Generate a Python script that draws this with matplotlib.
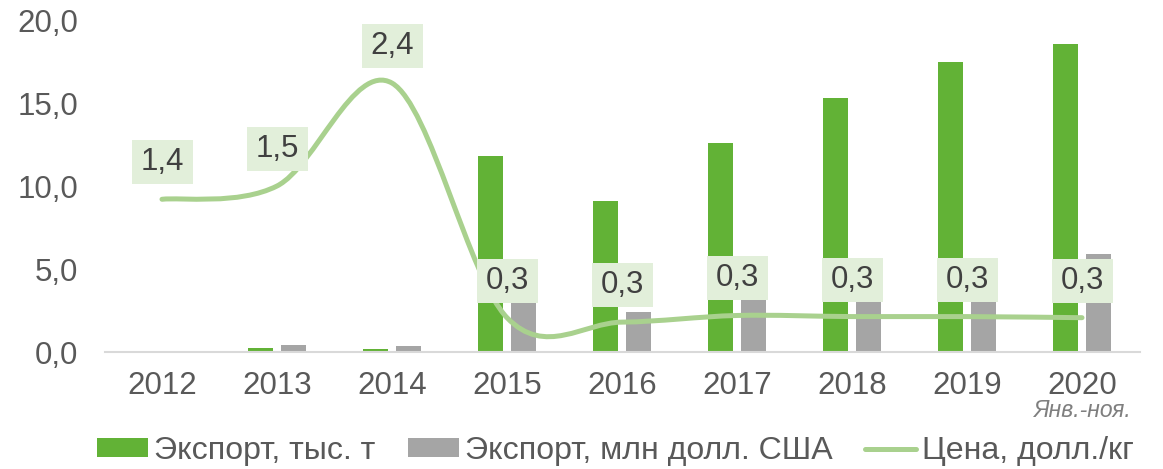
import matplotlib
matplotlib.use('Agg')
import matplotlib.pyplot as plt
import numpy as np
from matplotlib.path import Path
from matplotlib.patches import PathPatch, Rectangle, Patch
from matplotlib.lines import Line2D
import matplotlib.transforms as mtransforms

plt.rcParams['font.family'] = ['Liberation Sans', 'DejaVu Sans']

# ---- data ----
years = ['2012', '2013', '2014', '2015', '2016', '2017', '2018', '2019', '2020']
export_kt = [0.0, 0.26, 0.16, 11.8, 9.1, 12.6, 15.3, 17.5, 18.55]
export_musd = [0.0, 0.42, 0.38, 3.3, 2.4, 3.5, 3.2, 3.3, 5.9]
price = [1.38, 1.50, 2.43, 0.31, 0.27, 0.33, 0.32, 0.32, 0.31]
y_ticks = [0, 5, 10, 15, 20]
series_names = ['Экспорт, тыс. т', 'Экспорт, млн долл. США', 'Цена, долл./кг']
note = 'Янв.-ноя.'

GREEN = '#62B236'
GRAY = '#A5A5A5'
LINE = '#A9D18E'
LABEL_BG = '#E2EFDA'
TXT = '#595959'

W, H = 1163, 469
fig = plt.figure(figsize=(W / 100, H / 100), dpi=100)
ax = fig.add_axes([104.5 / W, 1 - 352 / H, 1035 / W, 332 / H])

x = np.arange(len(years))
bw = 0.217
off = 0.1435
ax.bar(x - off, export_kt, bw, color=GREEN, linewidth=0, zorder=2)
ax.bar(x + off, export_musd, bw, color=GRAY, linewidth=0, zorder=2)

ax.set_xlim(-0.5, len(years) - 0.5)
ax.set_ylim(0, 20)
ax.set_xticks(x)
ax.set_xticklabels(years)
ax.set_yticks(y_ticks)
ax.set_yticklabels([f"{v:.1f}".replace('.', ',') for v in y_ticks])
for s in ['top', 'left', 'right']:
    ax.spines[s].set_visible(False)
ax.spines['bottom'].set_color('#D9D9D9')
ax.spines['bottom'].set_linewidth(1.5)
ax.tick_params(axis='both', length=0, labelsize=22.5, colors=TXT)
ax.tick_params(axis='y', pad=19)
ax.tick_params(axis='x', pad=14)

# secondary axis for price
ax2 = ax.twinx()
ax2.set_ylim(0, 3.0)
ax2.axis('off')

P = np.column_stack([x.astype(float), np.array(price)])
n = len(P)
verts = [P[0]]
codes = [Path.MOVETO]
for i in range(n - 1):
    p0 = P[i - 1] if i > 0 else P[i]
    p1 = P[i]
    p2 = P[i + 1]
    p3 = P[i + 2] if i + 2 < n else P[i + 1]
    c1 = p1 + (p2 - p0) / 6.0
    c2 = p2 - (p3 - p1) / 6.0
    verts += [c1, c2, p2]
    codes += [Path.CURVE4] * 3
line_patch = PathPatch(Path(verts, codes), fill=False, edgecolor=LINE, lw=3.6,
                       capstyle='round', joinstyle='round', transform=ax2.transData, zorder=3)
ax2.add_patch(line_patch)
ax2.set_ylim(0, 3.0)
ax2.set_xlim(-0.5, len(years) - 0.5)

# data labels
for i, v in enumerate(price):
    trans = fig.dpi_scale_trans + mtransforms.ScaledTranslation(i, v, ax2.transData)
    rect = Rectangle((-0.305, 0.37 - 0.22), 0.61, 0.44, transform=trans,
                     facecolor=LABEL_BG, edgecolor='none', zorder=5)
    fig.add_artist(rect)
    fig.text(0, 0.37, f"{v:.1f}".replace('.', ','), transform=trans, ha='center', va='center',
             fontsize=22.5, color='#404040', zorder=6)

fig.text(1131 / W, 1 - 410 / H, note, ha='right', va='center', fontsize=16.5,
         style='italic', color='#7F7F7F')

handles = [Patch(facecolor=GREEN, edgecolor='none'),
           Patch(facecolor=GRAY, edgecolor='none'),
           Line2D([], [], color=LINE, lw=3.6, solid_capstyle='round')]
fig.legend(handles, series_names, loc='center', bbox_to_anchor=(615.5 / W, 1 - 451 / H),
           ncol=3, frameon=False, fontsize=23.1, handlelength=1.6, handleheight=0.52,
           handletextpad=0.185, columnspacing=1.0, labelcolor=TXT, borderpad=0)

fig.savefig('out.png', dpi=100)
